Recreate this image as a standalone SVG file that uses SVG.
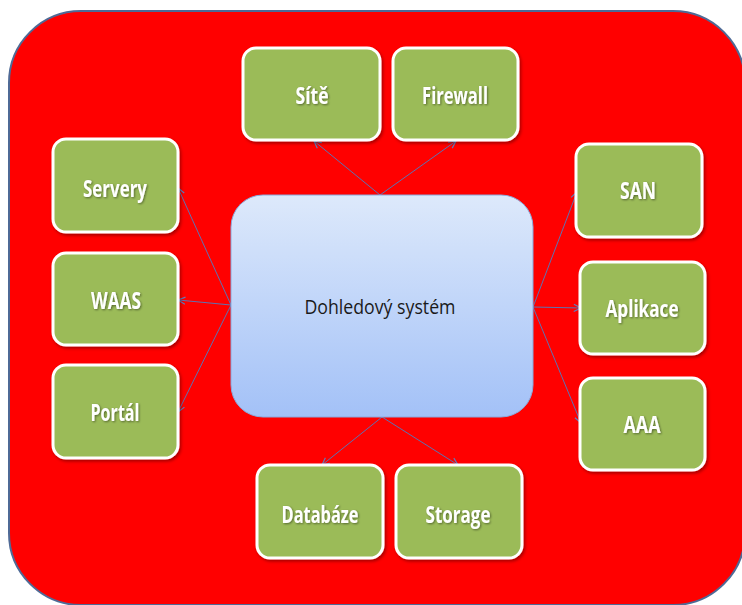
<svg xmlns="http://www.w3.org/2000/svg" width="742" height="605" viewBox="0 0 742 605">
<defs>
<linearGradient id="gBlue" x1="0" y1="0" x2="0" y2="1">
<stop offset="0" stop-color="#dde9fb"/>
<stop offset="1" stop-color="#a3c1f7"/>
</linearGradient>
<filter id="sh" x="-20%" y="-20%" width="140%" height="140%">
<feDropShadow dx="1.5" dy="2" stdDeviation="1.5" flood-color="#000" flood-opacity="0.35"/>
</filter>
<filter id="tsh" x="-20%" y="-30%" width="140%" height="160%">
<feDropShadow dx="1" dy="1" stdDeviation="0.8" flood-color="#000" flood-opacity="0.45"/>
</filter>
<marker id="arr" viewBox="0 0 10 10" refX="9" refY="5" markerWidth="9" markerHeight="9" orient="auto" markerUnits="userSpaceOnUse">
<path d="M1,1 L9,5 L1,9" fill="none" stroke="#5b7fbf" stroke-width="1.3"/>
</marker>
<style>
.box{fill:#9bbb59;stroke:#ffffff;stroke-width:3;filter:url(#sh)}
.lbl{font-family:"Open Sans","Noto Sans","Liberation Sans",sans-serif;font-weight:bold;font-size:23px;fill:#ffffff;text-anchor:middle;filter:url(#tsh)}
.con{stroke:#5b74b4;stroke-width:1;fill:none;marker-end:url(#arr)}
</style>
</defs>
<rect x="9" y="11" width="736" height="594" rx="72" ry="72" fill="#ff0000" stroke="#4f6a96" stroke-width="2"/>
<g id="connectors">
<line class="con" x1="380" y1="195" x2="314" y2="141"/>
<line class="con" x1="380" y1="195" x2="456" y2="141"/>
<line class="con" x1="231" y1="305" x2="178" y2="188"/>
<line class="con" x1="231" y1="305" x2="178" y2="300"/>
<line class="con" x1="231" y1="305" x2="178" y2="412"/>
<line class="con" x1="533" y1="307" x2="577" y2="192"/>
<line class="con" x1="533" y1="307" x2="581" y2="308"/>
<line class="con" x1="533" y1="307" x2="581" y2="423"/>
<line class="con" x1="382" y1="417" x2="322" y2="465"/>
<line class="con" x1="382" y1="417" x2="458" y2="465"/>
</g>
<g id="center">
<rect x="231" y="195" width="302" height="222" rx="32" ry="32" fill="url(#gBlue)" stroke="#8aa9dc" stroke-width="1"/>
<text x="380" y="314" font-family="'Open Sans','Noto Sans','Liberation Sans',sans-serif" font-size="20" fill="#1a1a1a" text-anchor="middle" textLength="151" lengthAdjust="spacingAndGlyphs">Dohledový systém</text>
</g>
<g id="site"><rect class="box" x="243" y="48" width="137" height="92" rx="13"/><text class="lbl" x="312" y="104" textLength="33" lengthAdjust="spacingAndGlyphs">Sítě</text></g>
<g id="firewall"><rect class="box" x="393" y="48" width="125" height="92" rx="13"/><text class="lbl" x="455" y="104" textLength="66" lengthAdjust="spacingAndGlyphs">Firewall</text></g>
<g id="servery"><rect class="box" x="53" y="139" width="125" height="93" rx="13"/><text class="lbl" x="115" y="197" textLength="64" lengthAdjust="spacingAndGlyphs">Servery</text></g>
<g id="waas"><rect class="box" x="53" y="253" width="125" height="92" rx="13"/><text class="lbl" x="116" y="309" textLength="50" lengthAdjust="spacingAndGlyphs">WAAS</text></g>
<g id="portal"><rect class="box" x="53" y="365" width="125" height="93" rx="13"/><text class="lbl" x="115" y="421" textLength="49" lengthAdjust="spacingAndGlyphs">Portál</text></g>
<g id="san"><rect class="box" x="576" y="144" width="126" height="93" rx="13"/><text class="lbl" x="638" y="199" textLength="36" lengthAdjust="spacingAndGlyphs">SAN</text></g>
<g id="aplikace"><rect class="box" x="580" y="262" width="125" height="92" rx="13"/><text class="lbl" x="642" y="317" textLength="73" lengthAdjust="spacingAndGlyphs">Aplikace</text></g>
<g id="aaa"><rect class="box" x="580" y="378" width="125" height="92" rx="13"/><text class="lbl" x="642" y="433" textLength="37" lengthAdjust="spacingAndGlyphs">AAA</text></g>
<g id="databaze"><rect class="box" x="257" y="465" width="126" height="93" rx="13"/><text class="lbl" x="320" y="523" textLength="77" lengthAdjust="spacingAndGlyphs">Databáze</text></g>
<g id="storage"><rect class="box" x="396" y="465" width="126" height="93" rx="13"/><text class="lbl" x="458" y="523" textLength="65" lengthAdjust="spacingAndGlyphs">Storage</text></g>
</svg>
